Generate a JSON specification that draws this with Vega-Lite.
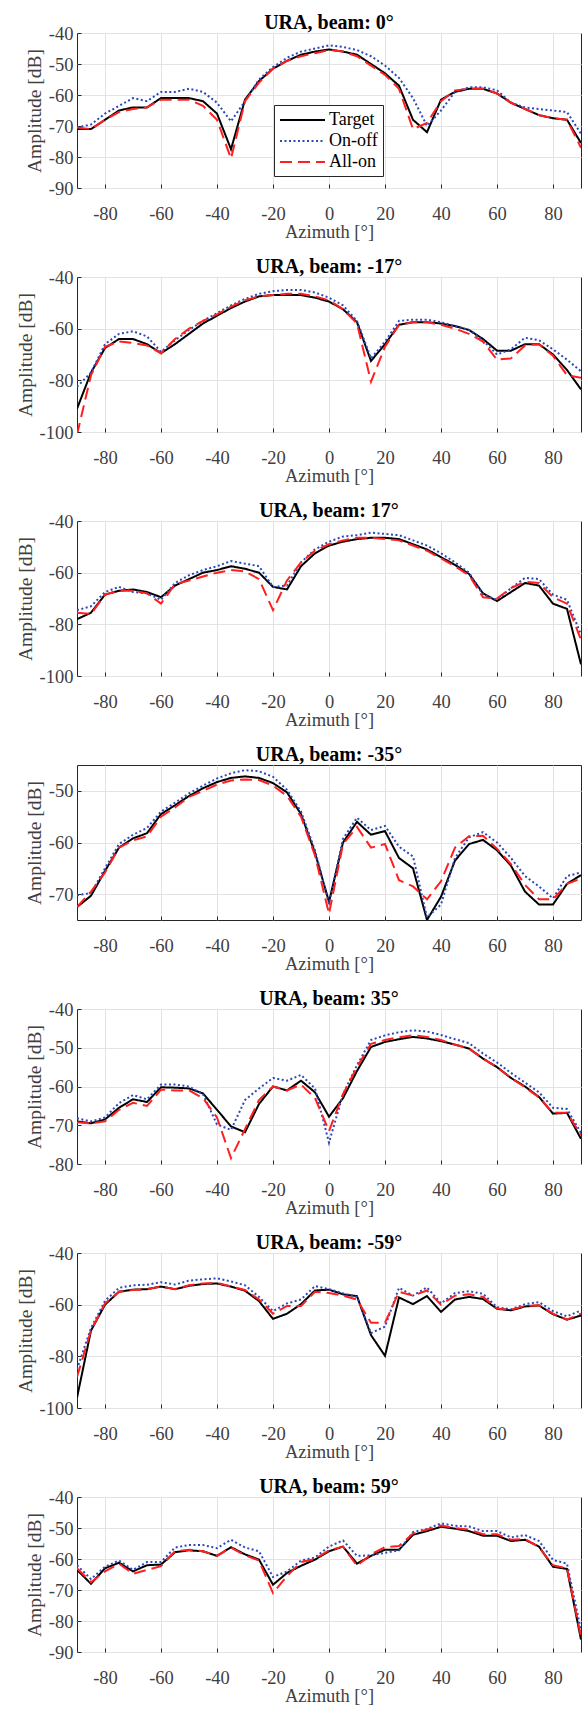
{
"$schema": "https://vega.github.io/schema/vega-lite/v6.json",
"background": "white",
"padding": {"left": 14, "top": 12, "right": 0, "bottom": 0},
"spacing": 14,
"config": {
  "font": "Liberation Serif",
  "view": {"stroke": "#262626", "strokeWidth": 1},
  "axis": {"grid": true, "gridColor": "#e3e3e3", "gridWidth": 1, "domain": false, "ticks": true, "tickSize": -4, "tickColor": "#262626", "tickWidth": 1, "labelFont": "Liberation Serif", "labelFontSize": 18.5, "labelColor": "#404040", "titleFont": "Liberation Serif", "titleColor": "#404040", "titleFontWeight": "normal"},
  "axisX": {"labelPadding": 20, "titleFontSize": 18.5, "titlePadding": 0},
  "axisY": {"labelPadding": 8, "titleFontSize": 19.5, "titlePadding": 4},
  "title": {"font": "Liberation Serif", "fontSize": 20, "fontWeight": "bold", "color": "#000000", "offset": -9, "baseline": "alphabetic"}
},
"resolve": {"legend": {"color": "independent", "strokeDash": "independent"}},
"datasets": {
"p0": [
{"a":-90,"s":"Target","v":-71},{"a":-85,"s":"Target","v":-71},{"a":-80,"s":"Target","v":-68},{"a":-75,"s":"Target","v":-65},{"a":-70,"s":"Target","v":-64},{"a":-65,"s":"Target","v":-64},{"a":-60,"s":"Target","v":-61},{"a":-55,"s":"Target","v":-61},{"a":-50,"s":"Target","v":-61},{"a":-45,"s":"Target","v":-62},{"a":-40,"s":"Target","v":-66},{"a":-35,"s":"Target","v":-77.5},{"a":-30,"s":"Target","v":-61.5},{"a":-25,"s":"Target","v":-55.5},{"a":-20,"s":"Target","v":-51.5},{"a":-15,"s":"Target","v":-49},{"a":-10,"s":"Target","v":-47},{"a":-5,"s":"Target","v":-46},{"a":0,"s":"Target","v":-45.3},{"a":5,"s":"Target","v":-46},{"a":10,"s":"Target","v":-47},{"a":15,"s":"Target","v":-50},{"a":20,"s":"Target","v":-53},{"a":25,"s":"Target","v":-57},{"a":30,"s":"Target","v":-68},{"a":35,"s":"Target","v":-72},{"a":40,"s":"Target","v":-61.5},{"a":45,"s":"Target","v":-59},{"a":50,"s":"Target","v":-58},{"a":55,"s":"Target","v":-58},{"a":60,"s":"Target","v":-59.5},{"a":65,"s":"Target","v":-62.5},{"a":70,"s":"Target","v":-64.5},{"a":75,"s":"Target","v":-66.5},{"a":80,"s":"Target","v":-67.5},{"a":85,"s":"Target","v":-68},{"a":90,"s":"Target","v":-75.5},
{"a":-90,"s":"On-off","v":-70.5},{"a":-85,"s":"On-off","v":-69.5},{"a":-80,"s":"On-off","v":-66},{"a":-75,"s":"On-off","v":-63.5},{"a":-70,"s":"On-off","v":-61},{"a":-65,"s":"On-off","v":-62},{"a":-60,"s":"On-off","v":-59},{"a":-55,"s":"On-off","v":-59},{"a":-50,"s":"On-off","v":-58},{"a":-45,"s":"On-off","v":-59},{"a":-40,"s":"On-off","v":-62.5},{"a":-35,"s":"On-off","v":-68.5},{"a":-30,"s":"On-off","v":-62},{"a":-25,"s":"On-off","v":-55},{"a":-20,"s":"On-off","v":-51},{"a":-15,"s":"On-off","v":-48},{"a":-10,"s":"On-off","v":-46},{"a":-5,"s":"On-off","v":-45},{"a":0,"s":"On-off","v":-44},{"a":5,"s":"On-off","v":-44.5},{"a":10,"s":"On-off","v":-45.5},{"a":15,"s":"On-off","v":-47.5},{"a":20,"s":"On-off","v":-50.5},{"a":25,"s":"On-off","v":-54.5},{"a":30,"s":"On-off","v":-61},{"a":35,"s":"On-off","v":-70},{"a":40,"s":"On-off","v":-65},{"a":45,"s":"On-off","v":-59},{"a":50,"s":"On-off","v":-57.5},{"a":55,"s":"On-off","v":-57.5},{"a":60,"s":"On-off","v":-58.5},{"a":65,"s":"On-off","v":-62.5},{"a":70,"s":"On-off","v":-64},{"a":75,"s":"On-off","v":-64.5},{"a":80,"s":"On-off","v":-65},{"a":85,"s":"On-off","v":-65.5},{"a":90,"s":"On-off","v":-72.5},
{"a":-90,"s":"All-on","v":-70.5},{"a":-85,"s":"All-on","v":-71},{"a":-80,"s":"All-on","v":-68},{"a":-75,"s":"All-on","v":-65.5},{"a":-70,"s":"All-on","v":-64.5},{"a":-65,"s":"All-on","v":-64},{"a":-60,"s":"All-on","v":-61.5},{"a":-55,"s":"All-on","v":-61.5},{"a":-50,"s":"All-on","v":-61.5},{"a":-45,"s":"All-on","v":-63.5},{"a":-40,"s":"All-on","v":-68},{"a":-35,"s":"All-on","v":-80.5},{"a":-30,"s":"All-on","v":-62},{"a":-25,"s":"All-on","v":-56},{"a":-20,"s":"All-on","v":-51.5},{"a":-15,"s":"All-on","v":-49},{"a":-10,"s":"All-on","v":-47.5},{"a":-5,"s":"All-on","v":-46.5},{"a":0,"s":"All-on","v":-45.5},{"a":5,"s":"All-on","v":-46},{"a":10,"s":"All-on","v":-47.5},{"a":15,"s":"All-on","v":-50.5},{"a":20,"s":"All-on","v":-53.5},{"a":25,"s":"All-on","v":-58},{"a":30,"s":"All-on","v":-71},{"a":35,"s":"All-on","v":-69},{"a":40,"s":"All-on","v":-62},{"a":45,"s":"All-on","v":-58.5},{"a":50,"s":"All-on","v":-58},{"a":55,"s":"All-on","v":-58},{"a":60,"s":"All-on","v":-59.5},{"a":65,"s":"All-on","v":-62.5},{"a":70,"s":"All-on","v":-64.5},{"a":75,"s":"All-on","v":-66.5},{"a":80,"s":"All-on","v":-67.5},{"a":85,"s":"All-on","v":-68},{"a":90,"s":"All-on","v":-77}
],
"m17": [
{"a":-90,"s":"Target","v":-91},{"a":-85,"s":"Target","v":-77},{"a":-80,"s":"Target","v":-67.5},{"a":-75,"s":"Target","v":-64},{"a":-70,"s":"Target","v":-64},{"a":-65,"s":"Target","v":-66},{"a":-60,"s":"Target","v":-69.5},{"a":-55,"s":"Target","v":-66},{"a":-50,"s":"Target","v":-62},{"a":-45,"s":"Target","v":-58},{"a":-40,"s":"Target","v":-55},{"a":-35,"s":"Target","v":-52},{"a":-30,"s":"Target","v":-49.5},{"a":-25,"s":"Target","v":-47.5},{"a":-20,"s":"Target","v":-47},{"a":-15,"s":"Target","v":-47},{"a":-10,"s":"Target","v":-47},{"a":-5,"s":"Target","v":-48},{"a":0,"s":"Target","v":-49.5},{"a":5,"s":"Target","v":-52.5},{"a":10,"s":"Target","v":-57.5},{"a":15,"s":"Target","v":-72.5},{"a":20,"s":"Target","v":-66},{"a":25,"s":"Target","v":-58.5},{"a":30,"s":"Target","v":-57.5},{"a":35,"s":"Target","v":-57.5},{"a":40,"s":"Target","v":-58},{"a":45,"s":"Target","v":-59},{"a":50,"s":"Target","v":-60.5},{"a":55,"s":"Target","v":-64},{"a":60,"s":"Target","v":-68.5},{"a":65,"s":"Target","v":-68.5},{"a":70,"s":"Target","v":-66},{"a":75,"s":"Target","v":-66},{"a":80,"s":"Target","v":-70},{"a":85,"s":"Target","v":-76},{"a":90,"s":"Target","v":-83.5},
{"a":-90,"s":"On-off","v":-82.5},{"a":-85,"s":"On-off","v":-77},{"a":-80,"s":"On-off","v":-66},{"a":-75,"s":"On-off","v":-62},{"a":-70,"s":"On-off","v":-61},{"a":-65,"s":"On-off","v":-63},{"a":-60,"s":"On-off","v":-69},{"a":-55,"s":"On-off","v":-64.5},{"a":-50,"s":"On-off","v":-60.5},{"a":-45,"s":"On-off","v":-57},{"a":-40,"s":"On-off","v":-54},{"a":-35,"s":"On-off","v":-51},{"a":-30,"s":"On-off","v":-48.5},{"a":-25,"s":"On-off","v":-46.5},{"a":-20,"s":"On-off","v":-45.5},{"a":-15,"s":"On-off","v":-45},{"a":-10,"s":"On-off","v":-45},{"a":-5,"s":"On-off","v":-46},{"a":0,"s":"On-off","v":-48},{"a":5,"s":"On-off","v":-51},{"a":10,"s":"On-off","v":-57},{"a":15,"s":"On-off","v":-71.5},{"a":20,"s":"On-off","v":-65},{"a":25,"s":"On-off","v":-57},{"a":30,"s":"On-off","v":-56.5},{"a":35,"s":"On-off","v":-56.5},{"a":40,"s":"On-off","v":-57.5},{"a":45,"s":"On-off","v":-59},{"a":50,"s":"On-off","v":-60.5},{"a":55,"s":"On-off","v":-64.5},{"a":60,"s":"On-off","v":-70},{"a":65,"s":"On-off","v":-68},{"a":70,"s":"On-off","v":-63.5},{"a":75,"s":"On-off","v":-64.5},{"a":80,"s":"On-off","v":-68},{"a":85,"s":"On-off","v":-72},{"a":90,"s":"On-off","v":-76.5},
{"a":-90,"s":"All-on","v":-101},{"a":-85,"s":"All-on","v":-78},{"a":-80,"s":"All-on","v":-67},{"a":-75,"s":"All-on","v":-65},{"a":-70,"s":"All-on","v":-65.5},{"a":-65,"s":"All-on","v":-66.5},{"a":-60,"s":"All-on","v":-69.5},{"a":-55,"s":"All-on","v":-64},{"a":-50,"s":"All-on","v":-60},{"a":-45,"s":"All-on","v":-57},{"a":-40,"s":"All-on","v":-54.5},{"a":-35,"s":"All-on","v":-51.5},{"a":-30,"s":"All-on","v":-49},{"a":-25,"s":"All-on","v":-47.5},{"a":-20,"s":"All-on","v":-47},{"a":-15,"s":"All-on","v":-46.5},{"a":-10,"s":"All-on","v":-46.5},{"a":-5,"s":"All-on","v":-47.5},{"a":0,"s":"All-on","v":-49},{"a":5,"s":"All-on","v":-52.5},{"a":10,"s":"All-on","v":-58},{"a":15,"s":"All-on","v":-80.5},{"a":20,"s":"All-on","v":-67},{"a":25,"s":"All-on","v":-58.5},{"a":30,"s":"All-on","v":-57.5},{"a":35,"s":"All-on","v":-57.5},{"a":40,"s":"All-on","v":-58.5},{"a":45,"s":"All-on","v":-60},{"a":50,"s":"All-on","v":-62},{"a":55,"s":"All-on","v":-65},{"a":60,"s":"All-on","v":-72},{"a":65,"s":"All-on","v":-71.5},{"a":70,"s":"All-on","v":-66.5},{"a":75,"s":"All-on","v":-66},{"a":80,"s":"All-on","v":-70.5},{"a":85,"s":"All-on","v":-78},{"a":90,"s":"All-on","v":-79}
],
"p17": [
{"a":-90,"s":"Target","v":-78},{"a":-85,"s":"Target","v":-75.5},{"a":-80,"s":"Target","v":-68.5},{"a":-75,"s":"Target","v":-67},{"a":-70,"s":"Target","v":-66.5},{"a":-65,"s":"Target","v":-67.5},{"a":-60,"s":"Target","v":-69.5},{"a":-55,"s":"Target","v":-65},{"a":-50,"s":"Target","v":-62.5},{"a":-45,"s":"Target","v":-60},{"a":-40,"s":"Target","v":-59},{"a":-35,"s":"Target","v":-57.5},{"a":-30,"s":"Target","v":-58.5},{"a":-25,"s":"Target","v":-60},{"a":-20,"s":"Target","v":-65.5},{"a":-15,"s":"Target","v":-66.5},{"a":-10,"s":"Target","v":-57.5},{"a":-5,"s":"Target","v":-52.5},{"a":0,"s":"Target","v":-49.5},{"a":5,"s":"Target","v":-48},{"a":10,"s":"Target","v":-47},{"a":15,"s":"Target","v":-46.5},{"a":20,"s":"Target","v":-46.5},{"a":25,"s":"Target","v":-47},{"a":30,"s":"Target","v":-49},{"a":35,"s":"Target","v":-51},{"a":40,"s":"Target","v":-54},{"a":45,"s":"Target","v":-57},{"a":50,"s":"Target","v":-60.5},{"a":55,"s":"Target","v":-68},{"a":60,"s":"Target","v":-71},{"a":65,"s":"Target","v":-67.5},{"a":70,"s":"Target","v":-64},{"a":75,"s":"Target","v":-65},{"a":80,"s":"Target","v":-72},{"a":85,"s":"Target","v":-74},{"a":90,"s":"Target","v":-95.5},
{"a":-90,"s":"On-off","v":-74.5},{"a":-85,"s":"On-off","v":-73},{"a":-80,"s":"On-off","v":-67.5},{"a":-75,"s":"On-off","v":-65.5},{"a":-70,"s":"On-off","v":-67.5},{"a":-65,"s":"On-off","v":-68},{"a":-60,"s":"On-off","v":-70.5},{"a":-55,"s":"On-off","v":-64},{"a":-50,"s":"On-off","v":-61},{"a":-45,"s":"On-off","v":-59},{"a":-40,"s":"On-off","v":-57.5},{"a":-35,"s":"On-off","v":-55.5},{"a":-30,"s":"On-off","v":-56.5},{"a":-25,"s":"On-off","v":-57.5},{"a":-20,"s":"On-off","v":-65.5},{"a":-15,"s":"On-off","v":-65},{"a":-10,"s":"On-off","v":-56},{"a":-5,"s":"On-off","v":-51},{"a":0,"s":"On-off","v":-48},{"a":5,"s":"On-off","v":-46},{"a":10,"s":"On-off","v":-45.5},{"a":15,"s":"On-off","v":-44.5},{"a":20,"s":"On-off","v":-45},{"a":25,"s":"On-off","v":-45.5},{"a":30,"s":"On-off","v":-47.5},{"a":35,"s":"On-off","v":-49.5},{"a":40,"s":"On-off","v":-52.5},{"a":45,"s":"On-off","v":-56},{"a":50,"s":"On-off","v":-60},{"a":55,"s":"On-off","v":-68.5},{"a":60,"s":"On-off","v":-70.5},{"a":65,"s":"On-off","v":-66},{"a":70,"s":"On-off","v":-62},{"a":75,"s":"On-off","v":-62.5},{"a":80,"s":"On-off","v":-68.5},{"a":85,"s":"On-off","v":-70.5},{"a":90,"s":"On-off","v":-84},
{"a":-90,"s":"All-on","v":-75.5},{"a":-85,"s":"All-on","v":-76},{"a":-80,"s":"All-on","v":-68.5},{"a":-75,"s":"All-on","v":-67},{"a":-70,"s":"All-on","v":-67},{"a":-65,"s":"All-on","v":-68},{"a":-60,"s":"All-on","v":-72},{"a":-55,"s":"All-on","v":-64.5},{"a":-50,"s":"All-on","v":-63},{"a":-45,"s":"All-on","v":-61.5},{"a":-40,"s":"All-on","v":-60},{"a":-35,"s":"All-on","v":-59},{"a":-30,"s":"All-on","v":-59.5},{"a":-25,"s":"All-on","v":-62.5},{"a":-20,"s":"All-on","v":-74.5},{"a":-15,"s":"All-on","v":-63},{"a":-10,"s":"All-on","v":-56},{"a":-5,"s":"All-on","v":-51.5},{"a":0,"s":"All-on","v":-49},{"a":5,"s":"All-on","v":-47.5},{"a":10,"s":"All-on","v":-46.5},{"a":15,"s":"All-on","v":-46.5},{"a":20,"s":"All-on","v":-47},{"a":25,"s":"All-on","v":-47.5},{"a":30,"s":"All-on","v":-49.5},{"a":35,"s":"All-on","v":-51.5},{"a":40,"s":"All-on","v":-54.5},{"a":45,"s":"All-on","v":-57.5},{"a":50,"s":"All-on","v":-61},{"a":55,"s":"All-on","v":-69.5},{"a":60,"s":"All-on","v":-70},{"a":65,"s":"All-on","v":-66},{"a":70,"s":"All-on","v":-63.5},{"a":75,"s":"All-on","v":-64},{"a":80,"s":"All-on","v":-69.5},{"a":85,"s":"All-on","v":-72},{"a":90,"s":"All-on","v":-86}
],
"m35": [
{"a":-90,"s":"Target","v":-72.5},{"a":-85,"s":"Target","v":-70.3},{"a":-80,"s":"Target","v":-65.5},{"a":-75,"s":"Target","v":-61},{"a":-70,"s":"Target","v":-59.2},{"a":-65,"s":"Target","v":-58.2},{"a":-60,"s":"Target","v":-54.5},{"a":-55,"s":"Target","v":-52.8},{"a":-50,"s":"Target","v":-51},{"a":-45,"s":"Target","v":-49.5},{"a":-40,"s":"Target","v":-48.3},{"a":-35,"s":"Target","v":-47.5},{"a":-30,"s":"Target","v":-47.2},{"a":-25,"s":"Target","v":-47.5},{"a":-20,"s":"Target","v":-48.5},{"a":-15,"s":"Target","v":-50.3},{"a":-10,"s":"Target","v":-54.5},{"a":-5,"s":"Target","v":-62},{"a":0,"s":"Target","v":-71.5},{"a":5,"s":"Target","v":-60},{"a":10,"s":"Target","v":-56},{"a":15,"s":"Target","v":-58.5},{"a":20,"s":"Target","v":-57.8},{"a":25,"s":"Target","v":-63},{"a":30,"s":"Target","v":-65},{"a":35,"s":"Target","v":-75},{"a":40,"s":"Target","v":-70.5},{"a":45,"s":"Target","v":-63.5},{"a":50,"s":"Target","v":-60.3},{"a":55,"s":"Target","v":-59.5},{"a":60,"s":"Target","v":-61.5},{"a":65,"s":"Target","v":-64.5},{"a":70,"s":"Target","v":-69.5},{"a":75,"s":"Target","v":-72},{"a":80,"s":"Target","v":-72},{"a":85,"s":"Target","v":-68},{"a":90,"s":"Target","v":-66.3},
{"a":-90,"s":"On-off","v":-70.2},{"a":-85,"s":"On-off","v":-69.8},{"a":-80,"s":"On-off","v":-65},{"a":-75,"s":"On-off","v":-60.3},{"a":-70,"s":"On-off","v":-58.5},{"a":-65,"s":"On-off","v":-57.2},{"a":-60,"s":"On-off","v":-54},{"a":-55,"s":"On-off","v":-52.3},{"a":-50,"s":"On-off","v":-50.5},{"a":-45,"s":"On-off","v":-49},{"a":-40,"s":"On-off","v":-47.6},{"a":-35,"s":"On-off","v":-46.6},{"a":-30,"s":"On-off","v":-46},{"a":-25,"s":"On-off","v":-46.2},{"a":-20,"s":"On-off","v":-47.3},{"a":-15,"s":"On-off","v":-49.8},{"a":-10,"s":"On-off","v":-54},{"a":-5,"s":"On-off","v":-61.5},{"a":0,"s":"On-off","v":-71.8},{"a":5,"s":"On-off","v":-59.3},{"a":10,"s":"On-off","v":-55.2},{"a":15,"s":"On-off","v":-57.6},{"a":20,"s":"On-off","v":-56.8},{"a":25,"s":"On-off","v":-60.8},{"a":30,"s":"On-off","v":-62.7},{"a":35,"s":"On-off","v":-74.5},{"a":40,"s":"On-off","v":-72},{"a":45,"s":"On-off","v":-63},{"a":50,"s":"On-off","v":-59},{"a":55,"s":"On-off","v":-58},{"a":60,"s":"On-off","v":-60},{"a":65,"s":"On-off","v":-63},{"a":70,"s":"On-off","v":-66.5},{"a":75,"s":"On-off","v":-68.5},{"a":80,"s":"On-off","v":-70.8},{"a":85,"s":"On-off","v":-66.5},{"a":90,"s":"On-off","v":-65.8},
{"a":-90,"s":"All-on","v":-72.5},{"a":-85,"s":"All-on","v":-69.5},{"a":-80,"s":"All-on","v":-65.8},{"a":-75,"s":"All-on","v":-61},{"a":-70,"s":"All-on","v":-59.6},{"a":-65,"s":"All-on","v":-58.8},{"a":-60,"s":"All-on","v":-55},{"a":-55,"s":"All-on","v":-53.2},{"a":-50,"s":"All-on","v":-51.2},{"a":-45,"s":"All-on","v":-50},{"a":-40,"s":"All-on","v":-48.8},{"a":-35,"s":"All-on","v":-48},{"a":-30,"s":"All-on","v":-47.8},{"a":-25,"s":"All-on","v":-47.9},{"a":-20,"s":"All-on","v":-49},{"a":-15,"s":"All-on","v":-51},{"a":-10,"s":"All-on","v":-55},{"a":-5,"s":"All-on","v":-62.5},{"a":0,"s":"All-on","v":-73.8},{"a":5,"s":"All-on","v":-60.3},{"a":10,"s":"All-on","v":-57},{"a":15,"s":"All-on","v":-61},{"a":20,"s":"All-on","v":-60.3},{"a":25,"s":"All-on","v":-67.3},{"a":30,"s":"All-on","v":-68.5},{"a":35,"s":"All-on","v":-71},{"a":40,"s":"All-on","v":-67.5},{"a":45,"s":"All-on","v":-61},{"a":50,"s":"All-on","v":-58.8},{"a":55,"s":"All-on","v":-58.7},{"a":60,"s":"All-on","v":-61.2},{"a":65,"s":"All-on","v":-64.2},{"a":70,"s":"All-on","v":-68.2},{"a":75,"s":"All-on","v":-71},{"a":80,"s":"All-on","v":-71},{"a":85,"s":"All-on","v":-68},{"a":90,"s":"All-on","v":-67}
],
"p35": [
{"a":-90,"s":"Target","v":-69},{"a":-85,"s":"Target","v":-69.5},{"a":-80,"s":"Target","v":-68.5},{"a":-75,"s":"Target","v":-65.5},{"a":-70,"s":"Target","v":-63.3},{"a":-65,"s":"Target","v":-64},{"a":-60,"s":"Target","v":-60.2},{"a":-55,"s":"Target","v":-60.3},{"a":-50,"s":"Target","v":-60.5},{"a":-45,"s":"Target","v":-61.8},{"a":-40,"s":"Target","v":-66},{"a":-35,"s":"Target","v":-70.3},{"a":-30,"s":"Target","v":-71.8},{"a":-25,"s":"Target","v":-64.5},{"a":-20,"s":"Target","v":-60},{"a":-15,"s":"Target","v":-61},{"a":-10,"s":"Target","v":-58.5},{"a":-5,"s":"Target","v":-61.5},{"a":0,"s":"Target","v":-67.8},{"a":5,"s":"Target","v":-63},{"a":10,"s":"Target","v":-56},{"a":15,"s":"Target","v":-49.8},{"a":20,"s":"Target","v":-48.5},{"a":25,"s":"Target","v":-47.8},{"a":30,"s":"Target","v":-47.2},{"a":35,"s":"Target","v":-47.6},{"a":40,"s":"Target","v":-48.3},{"a":45,"s":"Target","v":-49.2},{"a":50,"s":"Target","v":-50.2},{"a":55,"s":"Target","v":-52.8},{"a":60,"s":"Target","v":-55},{"a":65,"s":"Target","v":-57.8},{"a":70,"s":"Target","v":-60},{"a":75,"s":"Target","v":-62.7},{"a":80,"s":"Target","v":-67},{"a":85,"s":"Target","v":-66.8},{"a":90,"s":"Target","v":-73.5},
{"a":-90,"s":"On-off","v":-68.2},{"a":-85,"s":"On-off","v":-69},{"a":-80,"s":"On-off","v":-68},{"a":-75,"s":"On-off","v":-64.3},{"a":-70,"s":"On-off","v":-62.2},{"a":-65,"s":"On-off","v":-63.3},{"a":-60,"s":"On-off","v":-59.5},{"a":-55,"s":"On-off","v":-59.5},{"a":-50,"s":"On-off","v":-60},{"a":-45,"s":"On-off","v":-62},{"a":-40,"s":"On-off","v":-69.8},{"a":-35,"s":"On-off","v":-71.2},{"a":-30,"s":"On-off","v":-63.5},{"a":-25,"s":"On-off","v":-60.5},{"a":-20,"s":"On-off","v":-57.8},{"a":-15,"s":"On-off","v":-58.5},{"a":-10,"s":"On-off","v":-57},{"a":-5,"s":"On-off","v":-60.5},{"a":0,"s":"On-off","v":-74.5},{"a":5,"s":"On-off","v":-62},{"a":10,"s":"On-off","v":-54.5},{"a":15,"s":"On-off","v":-48},{"a":20,"s":"On-off","v":-46.8},{"a":25,"s":"On-off","v":-46},{"a":30,"s":"On-off","v":-45.5},{"a":35,"s":"On-off","v":-45.8},{"a":40,"s":"On-off","v":-46.7},{"a":45,"s":"On-off","v":-47.8},{"a":50,"s":"On-off","v":-48.8},{"a":55,"s":"On-off","v":-51.5},{"a":60,"s":"On-off","v":-53.8},{"a":65,"s":"On-off","v":-56.5},{"a":70,"s":"On-off","v":-59},{"a":75,"s":"On-off","v":-61.5},{"a":80,"s":"On-off","v":-65.5},{"a":85,"s":"On-off","v":-65.8},{"a":90,"s":"On-off","v":-72},
{"a":-90,"s":"All-on","v":-69.2},{"a":-85,"s":"All-on","v":-69.5},{"a":-80,"s":"All-on","v":-69},{"a":-75,"s":"All-on","v":-66},{"a":-70,"s":"All-on","v":-64.2},{"a":-65,"s":"All-on","v":-65},{"a":-60,"s":"All-on","v":-60.8},{"a":-55,"s":"All-on","v":-61},{"a":-50,"s":"All-on","v":-61},{"a":-45,"s":"All-on","v":-63},{"a":-40,"s":"All-on","v":-68},{"a":-35,"s":"All-on","v":-78.5},{"a":-30,"s":"All-on","v":-71},{"a":-25,"s":"All-on","v":-63.5},{"a":-20,"s":"All-on","v":-60},{"a":-15,"s":"All-on","v":-61},{"a":-10,"s":"All-on","v":-59.5},{"a":-5,"s":"All-on","v":-63},{"a":0,"s":"All-on","v":-71.5},{"a":5,"s":"All-on","v":-62},{"a":10,"s":"All-on","v":-55},{"a":15,"s":"All-on","v":-49},{"a":20,"s":"All-on","v":-48},{"a":25,"s":"All-on","v":-47.3},{"a":30,"s":"All-on","v":-46.8},{"a":35,"s":"All-on","v":-47.2},{"a":40,"s":"All-on","v":-48},{"a":45,"s":"All-on","v":-49.2},{"a":50,"s":"All-on","v":-50.2},{"a":55,"s":"All-on","v":-52.8},{"a":60,"s":"All-on","v":-55},{"a":65,"s":"All-on","v":-57.8},{"a":70,"s":"All-on","v":-60.2},{"a":75,"s":"All-on","v":-62.8},{"a":80,"s":"All-on","v":-66.8},{"a":85,"s":"All-on","v":-66.8},{"a":90,"s":"All-on","v":-72.5}
],
"m59": [
{"a":-90,"s":"Target","v":-96},{"a":-85,"s":"Target","v":-70},{"a":-80,"s":"Target","v":-60},{"a":-75,"s":"Target","v":-55},{"a":-70,"s":"Target","v":-54.2},{"a":-65,"s":"Target","v":-54},{"a":-60,"s":"Target","v":-53},{"a":-55,"s":"Target","v":-54},{"a":-50,"s":"Target","v":-52.7},{"a":-45,"s":"Target","v":-52},{"a":-40,"s":"Target","v":-51.8},{"a":-35,"s":"Target","v":-53},{"a":-30,"s":"Target","v":-54.6},{"a":-25,"s":"Target","v":-58.6},{"a":-20,"s":"Target","v":-65.5},{"a":-15,"s":"Target","v":-63.5},{"a":-10,"s":"Target","v":-59.8},{"a":-5,"s":"Target","v":-54.5},{"a":0,"s":"Target","v":-54.2},{"a":5,"s":"Target","v":-56},{"a":10,"s":"Target","v":-56.7},{"a":15,"s":"Target","v":-71.8},{"a":20,"s":"Target","v":-79.8},{"a":25,"s":"Target","v":-57.2},{"a":30,"s":"Target","v":-59.8},{"a":35,"s":"Target","v":-56.7},{"a":40,"s":"Target","v":-62.8},{"a":45,"s":"Target","v":-58},{"a":50,"s":"Target","v":-57},{"a":55,"s":"Target","v":-57.8},{"a":60,"s":"Target","v":-61.6},{"a":65,"s":"Target","v":-62.2},{"a":70,"s":"Target","v":-60.7},{"a":75,"s":"Target","v":-60.3},{"a":80,"s":"Target","v":-63.7},{"a":85,"s":"Target","v":-65.8},{"a":90,"s":"Target","v":-64.2},
{"a":-90,"s":"On-off","v":-85},{"a":-85,"s":"On-off","v":-69},{"a":-80,"s":"On-off","v":-58.5},{"a":-75,"s":"On-off","v":-53.5},{"a":-70,"s":"On-off","v":-52.5},{"a":-65,"s":"On-off","v":-52.3},{"a":-60,"s":"On-off","v":-51.3},{"a":-55,"s":"On-off","v":-52.2},{"a":-50,"s":"On-off","v":-50.7},{"a":-45,"s":"On-off","v":-50.2},{"a":-40,"s":"On-off","v":-49.8},{"a":-35,"s":"On-off","v":-51},{"a":-30,"s":"On-off","v":-52.5},{"a":-25,"s":"On-off","v":-57},{"a":-20,"s":"On-off","v":-62.5},{"a":-15,"s":"On-off","v":-59.5},{"a":-10,"s":"On-off","v":-58},{"a":-5,"s":"On-off","v":-52.8},{"a":0,"s":"On-off","v":-54},{"a":5,"s":"On-off","v":-55.6},{"a":10,"s":"On-off","v":-57},{"a":15,"s":"On-off","v":-71},{"a":20,"s":"On-off","v":-68.5},{"a":25,"s":"On-off","v":-53.5},{"a":30,"s":"On-off","v":-56.5},{"a":35,"s":"On-off","v":-53.3},{"a":40,"s":"On-off","v":-59.5},{"a":45,"s":"On-off","v":-55.5},{"a":50,"s":"On-off","v":-54.8},{"a":55,"s":"On-off","v":-55.8},{"a":60,"s":"On-off","v":-61},{"a":65,"s":"On-off","v":-61.8},{"a":70,"s":"On-off","v":-59.8},{"a":75,"s":"On-off","v":-59},{"a":80,"s":"On-off","v":-62.5},{"a":85,"s":"On-off","v":-64.5},{"a":90,"s":"On-off","v":-62.2},
{"a":-90,"s":"All-on","v":-88},{"a":-85,"s":"All-on","v":-70},{"a":-80,"s":"All-on","v":-59.5},{"a":-75,"s":"All-on","v":-55},{"a":-70,"s":"All-on","v":-54.3},{"a":-65,"s":"All-on","v":-54},{"a":-60,"s":"All-on","v":-53},{"a":-55,"s":"All-on","v":-54},{"a":-50,"s":"All-on","v":-52.5},{"a":-45,"s":"All-on","v":-51.8},{"a":-40,"s":"All-on","v":-51.5},{"a":-35,"s":"All-on","v":-53},{"a":-30,"s":"All-on","v":-54.3},{"a":-25,"s":"All-on","v":-58},{"a":-20,"s":"All-on","v":-63.5},{"a":-15,"s":"All-on","v":-60.5},{"a":-10,"s":"All-on","v":-60.5},{"a":-5,"s":"All-on","v":-55},{"a":0,"s":"All-on","v":-55.5},{"a":5,"s":"All-on","v":-56.5},{"a":10,"s":"All-on","v":-58},{"a":15,"s":"All-on","v":-67},{"a":20,"s":"All-on","v":-67},{"a":25,"s":"All-on","v":-55},{"a":30,"s":"All-on","v":-56.5},{"a":35,"s":"All-on","v":-54.5},{"a":40,"s":"All-on","v":-60},{"a":45,"s":"All-on","v":-56.5},{"a":50,"s":"All-on","v":-56},{"a":55,"s":"All-on","v":-57},{"a":60,"s":"All-on","v":-61.5},{"a":65,"s":"All-on","v":-62},{"a":70,"s":"All-on","v":-60.5},{"a":75,"s":"All-on","v":-60.2},{"a":80,"s":"All-on","v":-63.5},{"a":85,"s":"All-on","v":-65.8},{"a":90,"s":"All-on","v":-63.5}
],
"p59": [
{"a":-90,"s":"Target","v":-63.5},{"a":-85,"s":"Target","v":-68},{"a":-80,"s":"Target","v":-63},{"a":-75,"s":"Target","v":-61.2},{"a":-70,"s":"Target","v":-64},{"a":-65,"s":"Target","v":-62},{"a":-60,"s":"Target","v":-61.8},{"a":-55,"s":"Target","v":-57.8},{"a":-50,"s":"Target","v":-57.2},{"a":-45,"s":"Target","v":-57.5},{"a":-40,"s":"Target","v":-59},{"a":-35,"s":"Target","v":-56.2},{"a":-30,"s":"Target","v":-58.5},{"a":-25,"s":"Target","v":-60.2},{"a":-20,"s":"Target","v":-68.3},{"a":-15,"s":"Target","v":-64.5},{"a":-10,"s":"Target","v":-62.2},{"a":-5,"s":"Target","v":-60.2},{"a":0,"s":"Target","v":-57.5},{"a":5,"s":"Target","v":-56},{"a":10,"s":"Target","v":-61.5},{"a":15,"s":"Target","v":-59},{"a":20,"s":"Target","v":-57},{"a":25,"s":"Target","v":-57},{"a":30,"s":"Target","v":-52.2},{"a":35,"s":"Target","v":-51},{"a":40,"s":"Target","v":-49.6},{"a":45,"s":"Target","v":-50.2},{"a":50,"s":"Target","v":-51},{"a":55,"s":"Target","v":-52.5},{"a":60,"s":"Target","v":-52.5},{"a":65,"s":"Target","v":-54.2},{"a":70,"s":"Target","v":-53.8},{"a":75,"s":"Target","v":-56},{"a":80,"s":"Target","v":-62.5},{"a":85,"s":"Target","v":-63.2},{"a":90,"s":"Target","v":-86},
{"a":-90,"s":"On-off","v":-62},{"a":-85,"s":"On-off","v":-66.5},{"a":-80,"s":"On-off","v":-62.5},{"a":-75,"s":"On-off","v":-60.5},{"a":-70,"s":"On-off","v":-63.5},{"a":-65,"s":"On-off","v":-61},{"a":-60,"s":"On-off","v":-61},{"a":-55,"s":"On-off","v":-56.3},{"a":-50,"s":"On-off","v":-55.5},{"a":-45,"s":"On-off","v":-55.5},{"a":-40,"s":"On-off","v":-56.5},{"a":-35,"s":"On-off","v":-53.8},{"a":-30,"s":"On-off","v":-56.3},{"a":-25,"s":"On-off","v":-57.5},{"a":-20,"s":"On-off","v":-65.8},{"a":-15,"s":"On-off","v":-64},{"a":-10,"s":"On-off","v":-60.5},{"a":-5,"s":"On-off","v":-59.5},{"a":0,"s":"On-off","v":-56},{"a":5,"s":"On-off","v":-54},{"a":10,"s":"On-off","v":-59},{"a":15,"s":"On-off","v":-58.8},{"a":20,"s":"On-off","v":-58},{"a":25,"s":"On-off","v":-57.2},{"a":30,"s":"On-off","v":-51.3},{"a":35,"s":"On-off","v":-50.3},{"a":40,"s":"On-off","v":-48.5},{"a":45,"s":"On-off","v":-49.3},{"a":50,"s":"On-off","v":-49.5},{"a":55,"s":"On-off","v":-51},{"a":60,"s":"On-off","v":-51},{"a":65,"s":"On-off","v":-53},{"a":70,"s":"On-off","v":-52.3},{"a":75,"s":"On-off","v":-54.2},{"a":80,"s":"On-off","v":-60.3},{"a":85,"s":"On-off","v":-61.5},{"a":90,"s":"On-off","v":-83},
{"a":-90,"s":"All-on","v":-63},{"a":-85,"s":"All-on","v":-67.5},{"a":-80,"s":"All-on","v":-64},{"a":-75,"s":"All-on","v":-61.5},{"a":-70,"s":"All-on","v":-64.8},{"a":-65,"s":"All-on","v":-63.5},{"a":-60,"s":"All-on","v":-62.3},{"a":-55,"s":"All-on","v":-57.5},{"a":-50,"s":"All-on","v":-57},{"a":-45,"s":"All-on","v":-57.5},{"a":-40,"s":"All-on","v":-59},{"a":-35,"s":"All-on","v":-56.3},{"a":-30,"s":"All-on","v":-58.8},{"a":-25,"s":"All-on","v":-60.5},{"a":-20,"s":"All-on","v":-71},{"a":-15,"s":"All-on","v":-65.5},{"a":-10,"s":"All-on","v":-61},{"a":-5,"s":"All-on","v":-60},{"a":0,"s":"All-on","v":-57.2},{"a":5,"s":"All-on","v":-56},{"a":10,"s":"All-on","v":-62.2},{"a":15,"s":"All-on","v":-58.5},{"a":20,"s":"All-on","v":-56.2},{"a":25,"s":"All-on","v":-55.8},{"a":30,"s":"All-on","v":-51.8},{"a":35,"s":"All-on","v":-50.5},{"a":40,"s":"All-on","v":-49.2},{"a":45,"s":"All-on","v":-50},{"a":50,"s":"All-on","v":-50.5},{"a":55,"s":"All-on","v":-52},{"a":60,"s":"All-on","v":-52},{"a":65,"s":"All-on","v":-53.8},{"a":70,"s":"All-on","v":-53.5},{"a":75,"s":"All-on","v":-56.2},{"a":80,"s":"All-on","v":-62},{"a":85,"s":"All-on","v":-63},{"a":90,"s":"All-on","v":-85}
]
},
"vconcat": [
{
  "title": "URA, beam: 0°", "width": 504, "height": 155,
  "data": {"name": "p0"},
  "mark": {"type": "line", "clip": true, "strokeWidth": 2},
  "encoding": {
    "x": {"field": "a", "type": "quantitative", "scale": {"domain": [-90, 90], "nice": false}, "axis": {"values": [-80,-60,-40,-20,0,20,40,60,80], "labelExpr": "'' + datum.value", "title": "Azimuth [°]"}},
    "y": {"field": "v", "type": "quantitative", "scale": {"domain": [-90, -40], "nice": false, "zero": false}, "axis": {"values": [-90,-80,-70,-60,-50,-40], "labelExpr": "'' + datum.value", "title": "Amplitude [dB]"}},
    "color": {"field": "s", "type": "nominal", "scale": {"domain": ["Target","On-off","All-on"], "range": ["#000000","#2a48b8","#ff1f1f"]}, "legend": {"title": null, "orient": "none", "legendX": 197, "legendY": 72, "strokeColor": "#262626", "fillColor": "white", "padding": 5, "labelFontSize": 18, "labelColor": "#000000", "labelFont": "Liberation Serif", "symbolType": "M-1,0L4,0", "symbolSize": 324, "symbolStrokeWidth": 2, "labelOffset": 30, "rowPadding": 2}},
    "strokeDash": {"field": "s", "type": "nominal", "scale": {"domain": ["Target","On-off","All-on"], "range": [[1,0],[2,2.5],[12,6]]}, "legend": {"title": null, "orient": "none", "legendX": 197, "legendY": 72, "strokeColor": "#262626", "fillColor": "white", "padding": 5, "labelFontSize": 18, "labelColor": "#000000", "labelFont": "Liberation Serif", "symbolType": "M-1,0L4,0", "symbolSize": 324, "symbolStrokeWidth": 2, "labelOffset": 30, "rowPadding": 2}}
  }
},
{
  "title": "URA, beam: -17°", "width": 504, "height": 155,
  "data": {"name": "m17"},
  "mark": {"type": "line", "clip": true, "strokeWidth": 2},
  "encoding": {
    "x": {"field": "a", "type": "quantitative", "scale": {"domain": [-90, 90], "nice": false}, "axis": {"values": [-80,-60,-40,-20,0,20,40,60,80], "labelExpr": "'' + datum.value", "title": "Azimuth [°]"}},
    "y": {"field": "v", "type": "quantitative", "scale": {"domain": [-100, -40], "nice": false, "zero": false}, "axis": {"values": [-100,-80,-60,-40], "labelExpr": "'' + datum.value", "title": "Amplitude [dB]"}},
    "color": {"field": "s", "type": "nominal", "scale": {"domain": ["Target","On-off","All-on"], "range": ["#000000","#2a48b8","#ff1f1f"]}, "legend": null},
    "strokeDash": {"field": "s", "type": "nominal", "scale": {"domain": ["Target","On-off","All-on"], "range": [[1,0],[2,2.5],[12,6]]}, "legend": null}
  }
},
{
  "title": "URA, beam: 17°", "width": 504, "height": 155,
  "data": {"name": "p17"},
  "mark": {"type": "line", "clip": true, "strokeWidth": 2},
  "encoding": {
    "x": {"field": "a", "type": "quantitative", "scale": {"domain": [-90, 90], "nice": false}, "axis": {"values": [-80,-60,-40,-20,0,20,40,60,80], "labelExpr": "'' + datum.value", "title": "Azimuth [°]"}},
    "y": {"field": "v", "type": "quantitative", "scale": {"domain": [-100, -40], "nice": false, "zero": false}, "axis": {"values": [-100,-80,-60,-40], "labelExpr": "'' + datum.value", "title": "Amplitude [dB]"}},
    "color": {"field": "s", "type": "nominal", "scale": {"domain": ["Target","On-off","All-on"], "range": ["#000000","#2a48b8","#ff1f1f"]}, "legend": null},
    "strokeDash": {"field": "s", "type": "nominal", "scale": {"domain": ["Target","On-off","All-on"], "range": [[1,0],[2,2.5],[12,6]]}, "legend": null}
  }
},
{
  "title": {"text": "URA, beam: -35°", "offset": 0}, "width": 504, "height": 155,
  "data": {"name": "m35"},
  "mark": {"type": "line", "clip": true, "strokeWidth": 2},
  "encoding": {
    "x": {"field": "a", "type": "quantitative", "scale": {"domain": [-90, 90], "nice": false}, "axis": {"values": [-80,-60,-40,-20,0,20,40,60,80], "labelExpr": "'' + datum.value", "title": "Azimuth [°]"}},
    "y": {"field": "v", "type": "quantitative", "scale": {"domain": [-75, -45], "nice": false, "zero": false}, "axis": {"values": [-70,-60,-50], "labelExpr": "'' + datum.value", "title": "Amplitude [dB]"}},
    "color": {"field": "s", "type": "nominal", "scale": {"domain": ["Target","On-off","All-on"], "range": ["#000000","#2a48b8","#ff1f1f"]}, "legend": null},
    "strokeDash": {"field": "s", "type": "nominal", "scale": {"domain": ["Target","On-off","All-on"], "range": [[1,0],[2,2.5],[12,6]]}, "legend": null}
  }
},
{
  "title": "URA, beam: 35°", "width": 504, "height": 155,
  "data": {"name": "p35"},
  "mark": {"type": "line", "clip": true, "strokeWidth": 2},
  "encoding": {
    "x": {"field": "a", "type": "quantitative", "scale": {"domain": [-90, 90], "nice": false}, "axis": {"values": [-80,-60,-40,-20,0,20,40,60,80], "labelExpr": "'' + datum.value", "title": "Azimuth [°]"}},
    "y": {"field": "v", "type": "quantitative", "scale": {"domain": [-80, -40], "nice": false, "zero": false}, "axis": {"values": [-80,-70,-60,-50,-40], "labelExpr": "'' + datum.value", "title": "Amplitude [dB]"}},
    "color": {"field": "s", "type": "nominal", "scale": {"domain": ["Target","On-off","All-on"], "range": ["#000000","#2a48b8","#ff1f1f"]}, "legend": null},
    "strokeDash": {"field": "s", "type": "nominal", "scale": {"domain": ["Target","On-off","All-on"], "range": [[1,0],[2,2.5],[12,6]]}, "legend": null}
  }
},
{
  "title": "URA, beam: -59°", "width": 504, "height": 155,
  "data": {"name": "m59"},
  "mark": {"type": "line", "clip": true, "strokeWidth": 2},
  "encoding": {
    "x": {"field": "a", "type": "quantitative", "scale": {"domain": [-90, 90], "nice": false}, "axis": {"values": [-80,-60,-40,-20,0,20,40,60,80], "labelExpr": "'' + datum.value", "title": "Azimuth [°]"}},
    "y": {"field": "v", "type": "quantitative", "scale": {"domain": [-100, -40], "nice": false, "zero": false}, "axis": {"values": [-100,-80,-60,-40], "labelExpr": "'' + datum.value", "title": "Amplitude [dB]"}},
    "color": {"field": "s", "type": "nominal", "scale": {"domain": ["Target","On-off","All-on"], "range": ["#000000","#2a48b8","#ff1f1f"]}, "legend": null},
    "strokeDash": {"field": "s", "type": "nominal", "scale": {"domain": ["Target","On-off","All-on"], "range": [[1,0],[2,2.5],[12,6]]}, "legend": null}
  }
},
{
  "title": "URA, beam: 59°", "width": 504, "height": 155,
  "data": {"name": "p59"},
  "mark": {"type": "line", "clip": true, "strokeWidth": 2},
  "encoding": {
    "x": {"field": "a", "type": "quantitative", "scale": {"domain": [-90, 90], "nice": false}, "axis": {"values": [-80,-60,-40,-20,0,20,40,60,80], "labelExpr": "'' + datum.value", "title": "Azimuth [°]"}},
    "y": {"field": "v", "type": "quantitative", "scale": {"domain": [-90, -40], "nice": false, "zero": false}, "axis": {"values": [-90,-80,-70,-60,-50,-40], "labelExpr": "'' + datum.value", "title": "Amplitude [dB]"}},
    "color": {"field": "s", "type": "nominal", "scale": {"domain": ["Target","On-off","All-on"], "range": ["#000000","#2a48b8","#ff1f1f"]}, "legend": null},
    "strokeDash": {"field": "s", "type": "nominal", "scale": {"domain": ["Target","On-off","All-on"], "range": [[1,0],[2,2.5],[12,6]]}, "legend": null}
  }
}
]
}
